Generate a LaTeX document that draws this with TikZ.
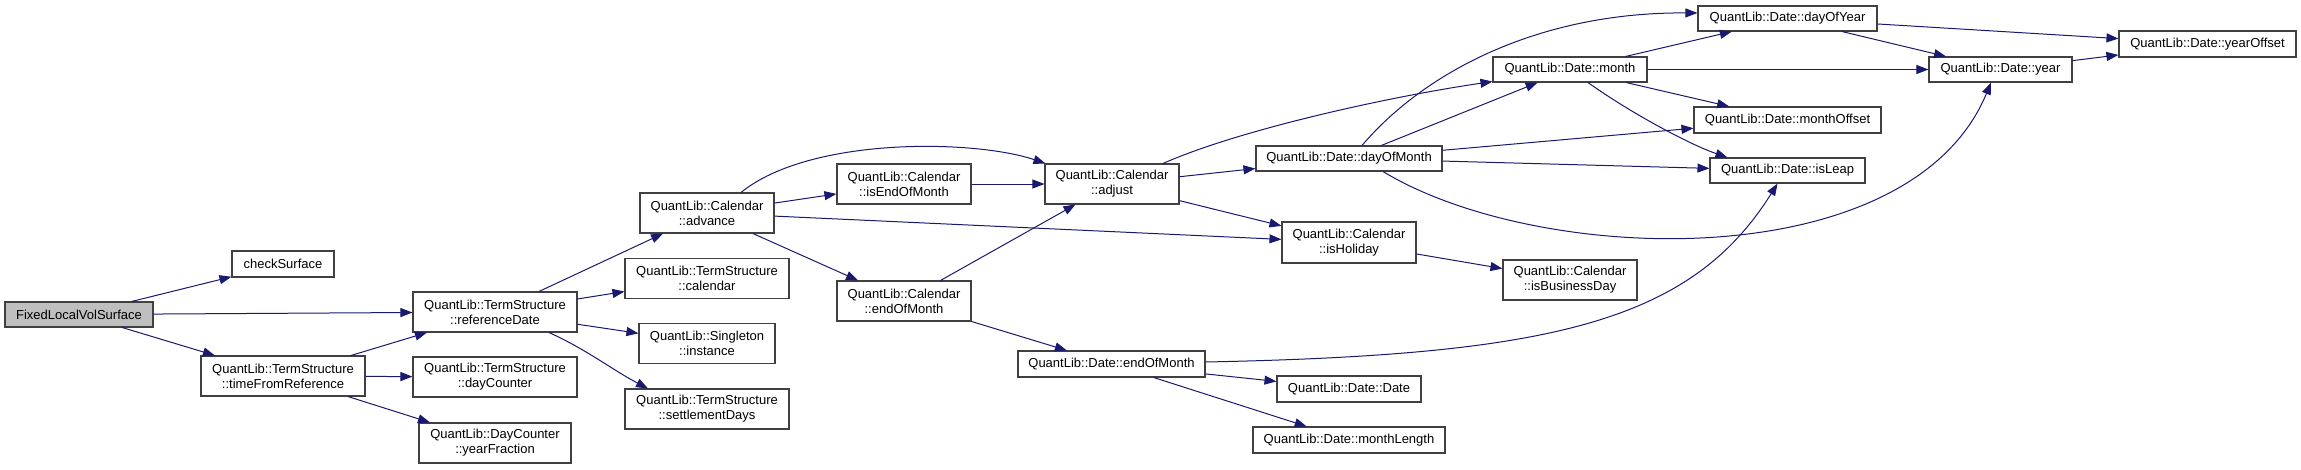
\documentclass[tikz,border=0pt]{standalone}
\usepackage{fontspec}
\setmainfont{Liberation Sans}
\usetikzlibrary{arrows.meta}
\definecolor{edgeblue}{RGB}{25,25,112}
\definecolor{boxline}{RGB}{64,64,64}
\definecolor{rootfill}{RGB}{191,191,191}
\tikzset{
  box/.style={draw=boxline, line width=1.1pt, fill=white, rectangle, inner sep=0pt,
    align=center, font=\fontsize{13}{15}\selectfont, text=black},
  rootbox/.style={box, fill=rootfill},
  edge/.style={draw=edgeblue, line width=1pt, -{Triangle[length=12pt,width=9pt]}, shorten >=0pt}
}
\begin{document}
\begin{tikzpicture}[x=1pt,y=-1pt]
\useasboundingbox (0,0) rectangle (2301,469);
% nodes
\node[rootbox, minimum width=148pt, minimum height=25pt] (flvs) at (79,314.5) {FixedLocalVolSurface};
\node[box, minimum width=102pt, minimum height=26pt] (check) at (283,264) {checkSurface};
\node[box, minimum width=164pt, minimum height=40pt] (refdate) at (495,312) {QuantLib::TermStructure\\::referenceDate};
\node[box, minimum width=164pt, minimum height=40pt] (tfr) at (283,376) {QuantLib::TermStructure\\::timeFromReference};
\node[box, minimum width=164pt, minimum height=40pt] (daycounter) at (495,377) {QuantLib::TermStructure\\::dayCounter};
\node[box, minimum width=152pt, minimum height=40pt] (yearfrac) at (495,443) {QuantLib::DayCounter\\::yearFraction};
\node[box, minimum width=134pt, minimum height=40pt] (advance) at (707,213) {QuantLib::Calendar\\::advance};
\node[box, minimum width=164pt, minimum height=40pt] (tscal) at (707,278.5) {QuantLib::TermStructure\\::calendar};
\node[box, minimum width=136pt, minimum height=40pt] (singleton) at (707,343.5) {QuantLib::Singleton\\::instance};
\node[box, minimum width=164pt, minimum height=40pt] (settle) at (707,409) {QuantLib::TermStructure\\::settlementDays};
\node[box, minimum width=134pt, minimum height=40pt] (iseom) at (904,184) {QuantLib::Calendar\\::isEndOfMonth};
\node[box, minimum width=134pt, minimum height=40pt] (ceom) at (904,301) {QuantLib::Calendar\\::endOfMonth};
\node[box, minimum width=134pt, minimum height=40pt] (adjust) at (1112,184) {QuantLib::Calendar\\::adjust};
\node[box, minimum width=187pt, minimum height=26pt] (deom) at (1111.5,364) {QuantLib::Date::endOfMonth};
\node[box, minimum width=144pt, minimum height=26pt] (ddate) at (1349,389) {QuantLib::Date::Date};
\node[box, minimum width=192pt, minimum height=26pt] (mlen) at (1349,440) {QuantLib::Date::monthLength};
\node[box, minimum width=186pt, minimum height=25pt] (dom) at (1349,158.5) {QuantLib::Date::dayOfMonth};
\node[box, minimum width=134pt, minimum height=41pt] (isholiday) at (1349,242.5) {QuantLib::Calendar\\::isHoliday};
\node[box, minimum width=134pt, minimum height=40pt] (isbd) at (1570,280) {QuantLib::Calendar\\::isBusinessDay};
\node[box, minimum width=154pt, minimum height=25pt] (month) at (1570,69.5) {QuantLib::Date::month};
\node[box, minimum width=179pt, minimum height=25pt] (doy) at (1787.5,18.5) {QuantLib::Date::dayOfYear};
\node[box, minimum width=187pt, minimum height=26pt] (moff) at (1787.5,120) {QuantLib::Date::monthOffset};
\node[box, minimum width=155pt, minimum height=25pt] (isleap) at (1787.5,170.5) {QuantLib::Date::isLeap};
\node[box, minimum width=143pt, minimum height=25pt] (year) at (2000.5,69.5) {QuantLib::Date::year};
\node[box, minimum width=177pt, minimum height=26pt] (yoff) at (2207.5,44) {QuantLib::Date::yearOffset};
% straight edges
\draw[edge] (flvs) -- (check);
\draw[edge] (flvs) -- (refdate);
\draw[edge] (flvs) -- (tfr);
\draw[edge] (tfr) -- (refdate);
\draw[edge] (tfr) -- (daycounter);
\draw[edge] (tfr) -- (yearfrac);
\draw[edge] (refdate) -- (advance);
\draw[edge] (refdate) -- (tscal);
\draw[edge] (refdate) -- (singleton);
\draw[edge] (advance) -- (iseom);
\draw[edge] (advance) -- (isholiday);
\draw[edge] (advance) -- (ceom);
\draw[edge] (iseom) -- (adjust);
\draw[edge] (ceom) -- (adjust);
\draw[edge] (ceom) -- (deom);
\draw[edge] (adjust) -- (dom);
\draw[edge] (adjust) -- (isholiday);
\draw[edge] (deom) -- (ddate);
\draw[edge] (deom) -- (mlen);
\draw[edge] (dom) -- (month);
\draw[edge] (dom) -- (moff);
\draw[edge] (dom) -- (isleap);
\draw[edge] (month) -- (doy);
\draw[edge] (month) -- (year);
\draw[edge] (month) -- (moff);
\draw[edge] (doy) -- (yoff);
\draw[edge] (doy) -- (year);
\draw[edge] (year) -- (yoff);
\draw[edge] (isholiday) -- (isbd);
% curved edges
\draw[edge] ([xshift=54pt]refdate.south) .. controls +(36,16) and +(-33,-17) .. ([xshift=-59pt]settle.north);
\draw[edge] ([xshift=34pt]advance.north) .. controls +(69,-56) and +(-71,-24) .. ([xshift=1pt]adjust.north west);
\draw[edge] ([xshift=51pt]adjust.north) .. controls +(77,-34) and +(-103,15) .. ([yshift=1pt]month.south west);
\draw[edge] ([yshift=2pt]deom.east) .. controls +(345,-7) and +(-87,139) .. ([xshift=-10pt]isleap.south);
\draw[edge] ([xshift=13pt]dom.north) .. controls +(63,-74) and +(-158,-1) .. ([yshift=5.5pt]doy.west);
\draw[edge] ([xshift=34pt]dom.south) .. controls +(157,95) and +(-81,195) .. ([xshift=-9.5pt]year.south);
\draw[edge] ([xshift=18pt]month.south) .. controls +(42,30) and +(-38,-13) .. ([xshift=18pt]isleap.north west);
\end{tikzpicture}
\end{document}
